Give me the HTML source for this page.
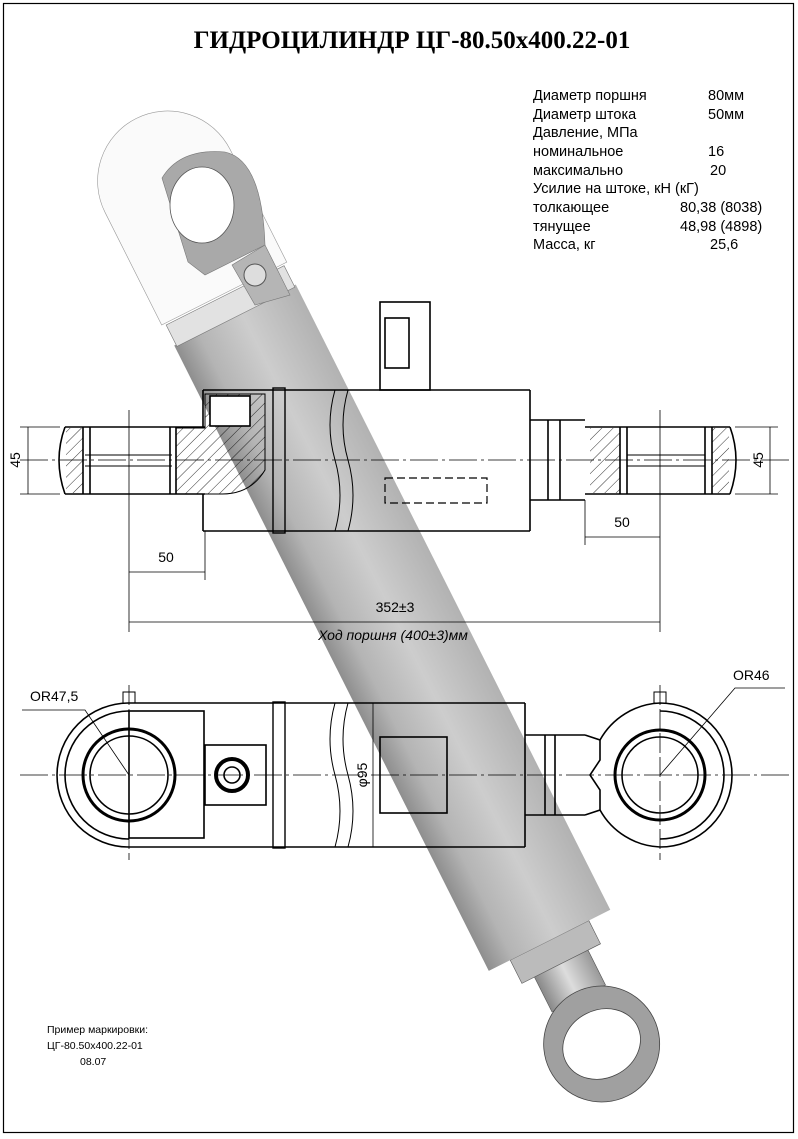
<!DOCTYPE html>
<html><head><meta charset="utf-8"><style>
html,body{margin:0;padding:0;background:#fff}
svg{display:block}
text{font-family:"Liberation Sans","DejaVu Sans",sans-serif}
text.ttl{font-family:"Liberation Serif","DejaVu Serif",serif}
</style></head><body>
<svg width="798" height="1139" viewBox="0 0 798 1139" xmlns="http://www.w3.org/2000/svg">
<defs>
<linearGradient id="tg" x1="-68" y1="0" x2="68" y2="0" gradientUnits="userSpaceOnUse">
<stop offset="0" stop-color="#8e8e8e"/><stop offset="0.2" stop-color="#b4b4b4"/><stop offset="0.55" stop-color="#cdcdcd"/><stop offset="1" stop-color="#b2b2b2"/></linearGradient>
<linearGradient id="rg" x1="-30" y1="0" x2="30" y2="0" gradientUnits="userSpaceOnUse">
<stop offset="0" stop-color="#888"/><stop offset="0.5" stop-color="#ddd"/><stop offset="1" stop-color="#999"/></linearGradient>
<pattern id="h" width="8" height="8" patternUnits="userSpaceOnUse" patternTransform="rotate(45)"><line x1="0" y1="0" x2="0" y2="8" stroke="#000" stroke-width="0.8"/></pattern>
</defs>
<rect x="3.5" y="3.5" width="790" height="1129" fill="none" stroke="#000" stroke-width="1.2"/>
<text class="ttl" x="412" y="48" text-anchor="middle" font-weight="bold" font-size="25">ГИДРОЦИЛИНДР ЦГ-80.50х400.22-01</text>
<g font-size="14.5" fill="#000">
<text x="533" y="100">Диаметр поршня</text><text x="708" y="100">80мм</text>
<text x="533" y="119">Диаметр штока</text><text x="708" y="119">50мм</text>
<text x="533" y="137">Давление, МПа</text>
<text x="533" y="156">номинальное</text><text x="708" y="156">16</text>
<text x="533" y="175">максимально</text><text x="710" y="175">20</text>
<text x="533" y="193">Усилие на штоке, кН (кГ)</text>
<text x="533" y="212">толкающее</text><text x="680" y="212">80,38 (8038)</text>
<text x="533" y="231">тянущее</text><text x="680" y="231">48,98 (4898)</text>
<text x="533" y="249">Масса, кг</text><text x="710" y="249">25,6</text>
</g>
<!-- 3D cylinder -->
<g transform="translate(235,315) rotate(-26.7)">
<rect x="-30" y="695" width="60" height="70" fill="url(#rg)" stroke="#555" stroke-width="0.6"/>
<rect x="-44" y="700" width="88" height="26" fill="#bbb" stroke="#555" stroke-width="0.6"/>
<circle cx="0" cy="816" r="58" fill="#a0a0a0" stroke="#444" stroke-width="0.8"/>
<ellipse cx="0" cy="816" rx="40" ry="34" fill="#fff" stroke="#444" stroke-width="0.8"/>
<rect x="-68" y="0" width="136" height="700" fill="url(#tg)"/>
<rect x="-66" y="-22" width="132" height="24" fill="#e2e2e2" stroke="#777" stroke-width="0.6"/>
<path d="M-70 -24 L-70 -150 A70 70 0 0 1 70 -150 L70 -24 Z" fill="#fafafa" stroke="#999" stroke-width="0.6"/>
</g>
<path d="M162 178 Q180 148 225 152 Q262 160 265 245 L205 275 L188 262 Z" fill="#a9a9a9" stroke="#777" stroke-width="0.6"/>
<ellipse cx="202" cy="205" rx="32" ry="38" fill="#fff" stroke="#555" stroke-width="0.8"/>
<path d="M232 265 L265 245 L290 295 L255 305 Z" fill="#b5b5b5" stroke="#777" stroke-width="0.6"/>
<circle cx="255" cy="275" r="11" fill="#ddd" stroke="#555"/>
<!-- top view -->
<g fill="none" stroke="#000" stroke-width="1.6">
<path d="M203 390 L530 390 M203 531 L530 531 M203 390 L203 427 M203 494 L203 531 M530 390 L530 531"/>
<rect x="273" y="388" width="12" height="145" stroke-width="1.4"/>
<path d="M335 390 q-10 35 0 70 q10 35 0 71 M348 390 q-10 35 0 70 q10 35 0 71" stroke-width="1"/>
<rect x="380" y="302" width="50" height="88"/>
<rect x="385" y="318" width="24" height="50"/>
<path d="M65 427 L205 427 M65 494 L205 494 M65 427 q-12 33 0 67 M83 427 L83 494 M90 427 L90 494 M170 427 L170 494 M176 427 L176 494"/>
<path d="M85 455 L172 455 M85 466 L172 466" stroke-width="1"/>
<rect x="66" y="428" width="17" height="65" fill="url(#h)" stroke="none"/>
<path d="M176 428 L205 428 L205 394 L265 394 L265 470 Q250 495 220 494 L176 494 Z" fill="url(#h)" stroke-width="1"/>
<rect x="210" y="396" width="40" height="30" fill="#fff"/>
<path d="M530 420 L585 420 M530 500 L585 500 M548 420 L548 500 M560 420 L560 500 M585 427 L730 427 M585 494 L730 494 M730 427 q12 33 0 67 M620 427 L620 494 M627 427 L627 494 M705 427 L705 494 M712 427 L712 494"/>
<path d="M627 455 L705 455 M627 466 L705 466" stroke-width="1"/>
<rect x="712" y="428" width="17" height="65" fill="url(#h)" stroke="none"/>
<rect x="590" y="428" width="30" height="65" fill="url(#h)" stroke="none"/>
<rect x="385" y="478" width="102" height="25" stroke-dasharray="8 4" stroke-width="1.2"/>
</g>
<g stroke="#000" stroke-width="0.8" fill="none">
<path d="M20 460 L790 460" stroke-dasharray="28 4 3 4"/>
<path d="M129 410 L129 632 M660 410 L660 632 M205 531 L205 580 M585 500 L585 545 M20 427 L60 427 M20 494 L60 494 M735 427 L778 427 M735 494 L778 494"/>
<path d="M28 427 L28 494 M770 427 L770 494 M129 572 L205 572 M585 537 L660 537 M129 622 L660 622"/>
</g>
<g font-size="14" fill="#000">
<text transform="translate(20,460) rotate(-90)" text-anchor="middle">45</text>
<text transform="translate(763,460) rotate(-90)" text-anchor="middle">45</text>
<text x="166" y="562" text-anchor="middle">50</text>
<text x="622" y="527" text-anchor="middle">50</text>
<text x="395" y="612" text-anchor="middle">352±3</text>
<text x="393" y="640" text-anchor="middle" font-style="italic">Ход поршня (400±3)мм</text>
</g>
<!-- bottom view -->
<g fill="none" stroke="#000" stroke-width="1.6">
<path d="M129 703 L525 703 M129 847 L525 847 M129 703 A72 72 0 0 0 129 847 M129 711 A64 64 0 0 0 129 839"/>
<circle cx="129" cy="775" r="46" stroke-width="3"/><circle cx="129" cy="775" r="39"/>
<rect x="129" y="711" width="75" height="127"/>
<rect x="205" y="745" width="61" height="60"/>
<circle cx="232" cy="775" r="16" stroke-width="4"/><circle cx="232" cy="775" r="8"/>
<rect x="273" y="702" width="12" height="146" stroke-width="1.4"/>
<path d="M335 703 q-10 36 0 72 q10 36 0 72 M348 703 q-10 36 0 72 q10 36 0 72" stroke-width="1"/>
<rect x="380" y="737" width="67" height="76"/>
<path d="M525 703 L525 847 M525 735 L585 735 M525 815 L585 815 M545 735 L545 815 M555 735 L555 815 M585 735 L600 740 L600 760 L590 775 L600 790 L600 810 L585 815"/>
<path d="M660 703 A72 72 0 0 1 660 847 M660 711 A64 64 0 0 1 660 839 M660 703 A72 72 0 0 0 600 740 M660 847 A72 72 0 0 1 600 810"/>
<circle cx="660" cy="775" r="45" stroke-width="3"/><circle cx="660" cy="775" r="38"/>
<rect x="123" y="692" width="12" height="11" stroke-width="1"/><rect x="654" y="692" width="12" height="11" stroke-width="1"/>
</g>
<g stroke="#000" stroke-width="0.8" fill="none">
<path d="M20 775 L790 775" stroke-dasharray="28 4 3 4"/>
<path d="M129 685 L129 860 M660 685 L660 860" stroke-dasharray="20 4"/>
<path d="M22 710 L85 710 L129 775 M785 688 L735 688 L660 775 M373 703 L373 847"/>
</g>
<g font-size="14" fill="#000">
<text x="30" y="701">OR47,5</text>
<text x="733" y="680">OR46</text>
<text transform="translate(367,775) rotate(-90)" text-anchor="middle">φ95</text>
</g>
<g font-size="10.5" fill="#000">
<text x="47" y="1033">Пример маркировки:</text>
<text x="47" y="1049">ЦГ-80.50х400.22-01</text>
<text x="80" y="1065">08.07</text>
</g>
</svg>
</body></html>
